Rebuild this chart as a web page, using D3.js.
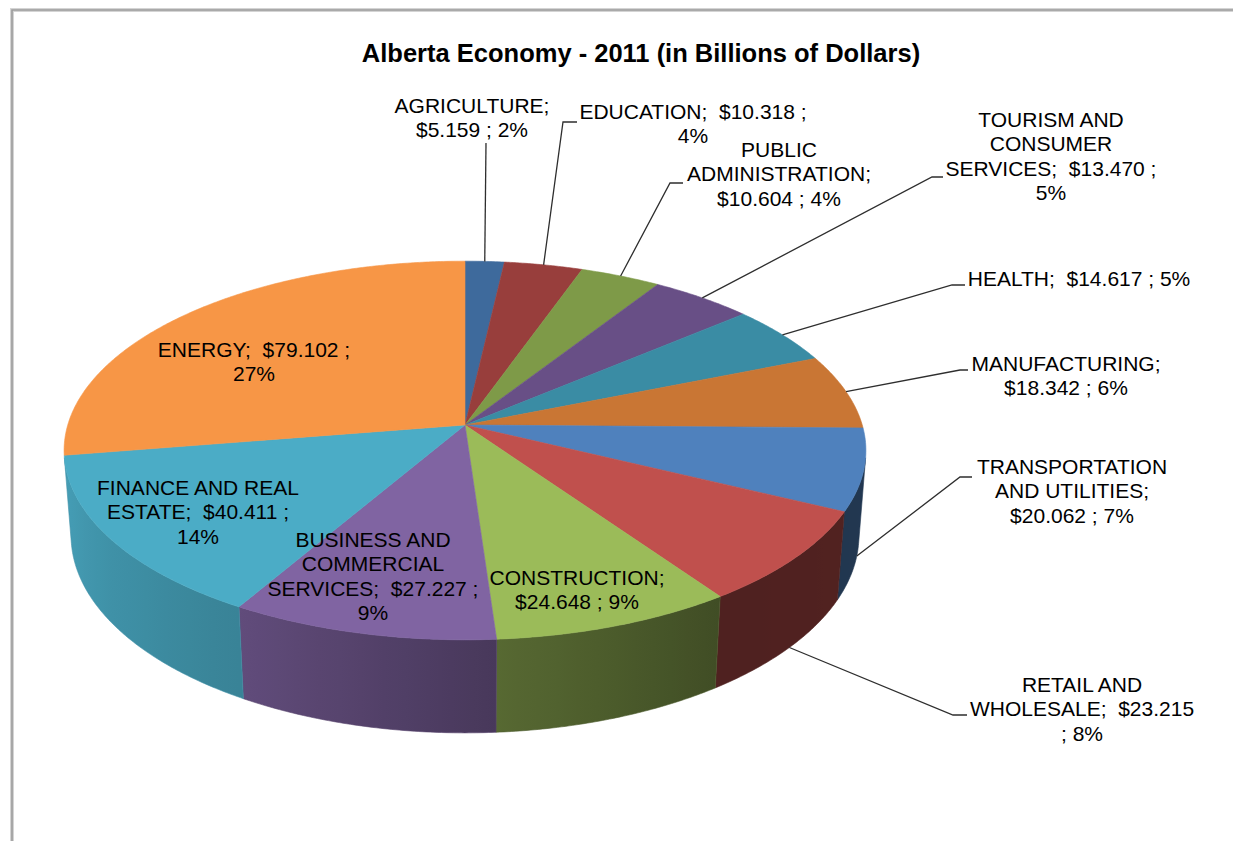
<!DOCTYPE html>
<html>
<head>
<meta charset="utf-8">
<script src="https://cdn.jsdelivr.net/npm/d3@7"></script>
<style>
  html, body { margin: 0; padding: 0; background: #ffffff; }
  svg { display: block; }
  text { font-family: "Liberation Sans", Arial, sans-serif; fill: #000; white-space: pre; }
</style>
</head>
<body>
<svg id="chart" width="1233" height="841"></svg>
<script>
// ---- data -------------------------------------------------------------
const sectors = [
  "AGRICULTURE", "EDUCATION", "PUBLIC ADMINISTRATION", "TOURISM AND CONSUMER SERVICES",
  "HEALTH", "MANUFACTURING", "TRANSPORTATION AND UTILITIES", "RETAIL AND WHOLESALE",
  "CONSTRUCTION", "BUSINESS AND COMMERCIAL SERVICES", "FINANCE AND REAL ESTATE", "ENERGY"
];
const gdpBillions = [5.159, 10.318, 10.604, 13.470, 14.617, 18.342, 20.062, 23.215, 24.648, 27.227, 40.411, 79.102];
const shareLabels = ["2%", "4%", "4%", "5%", "5%", "6%", "7%", "8%", "9%", "9%", "14%", "27%"];
const sliceColors = ["#3e6a9c", "#983e3c", "#7e9a48", "#684f86", "#3a8ca4", "#c97634",
                     "#4f81bd", "#c0504d", "#9bbb59", "#8064a2", "#4bacc6", "#f79646"];
const chartTitle = "Alberta Economy - 2011 (in Billions of Dollars)";

// ---- label placement (centre x, first baseline, tokens per line, leader) ----
const labelLayout = [
  { x: 472,  y: 113, lines: [1, 3],       elbow: [486, 143], end: [486, 143] },
  { x: 693,  y: 119, lines: [3, 1],       elbow: [563, 122], end: [577, 122] },
  { x: 779,  y: 157, lines: [1, 1, 3],    elbow: [670, 183], end: [683, 183] },
  { x: 1051, y: 127, lines: [2, 1, 3, 1], elbow: [932, 177], end: [943, 177] },
  { x: 1079, y: 286, lines: [4],          elbow: [952, 285], end: [965, 285] },
  { x: 1066, y: 371, lines: [1, 3],       elbow: [960, 370], end: [968, 370] },
  { x: 1072, y: 474, lines: [1, 2, 3],    elbow: [960, 477], end: [972, 477] },
  { x: 1082, y: 692, lines: [2, 2, 2],    elbow: [953, 715], end: [967, 715] },
  { x: 577,  y: 585, lines: [1, 3],       elbow: null, end: null },
  { x: 373,  y: 547, lines: [2, 1, 3, 1], elbow: null, end: null },
  { x: 198,  y: 495, lines: [3, 3, 1],    elbow: null, end: null },
  { x: 254,  y: 357, lines: [3, 1],       elbow: null, end: null }
];

// ---- 3D view of the pie disc ------------------------------------------
const view = {
  cx: 465, cy: 425,          // screen position of the disc centre
  tilt: 27.9 * Math.PI / 180, // camera elevation
  dist: 6.565,               // camera distance in disc radii
  focal: 2608,               // projection scale
  thickness: 0.2447          // disc height in disc radii
};
const sinT = Math.sin(view.tilt), cosT = Math.cos(view.tilt);

// theta: clockwise from the far side of the disc; h: height (0 = top face, negative = down)
function project(theta, h) {
  const px = Math.sin(theta), pz = -Math.cos(theta);
  const v = h * cosT - pz * sinT;
  const w = h * sinT + pz * cosT;
  const k = view.focal / (view.dist - w);
  return [view.cx + k * px, view.cy - k * v];
}

// angular range of the rim that faces the camera
const rimLo = Math.acos(-1 / (view.dist * cosT));
const rimHi = 2 * Math.PI - rimLo;

function sampleAngles(a0, a1) {
  const n = Math.max(2, Math.ceil((a1 - a0) / (0.5 * Math.PI / 180)));
  return d3.range(n + 1).map(i => a0 + (a1 - a0) * i / n);
}

// rim brightness as the wall turns away from the light
const rimShade = d3.scaleLinear()
  .domain([100, 145, 176, 210, 260].map(d => d * Math.PI / 180))
  .range([0.43, 0.41, 0.56, 0.76, 0.93])
  .clamp(true);

function shade(color, f) {
  const c = d3.rgb(color);
  return d3.rgb(c.r * f, c.g * f, c.b * f).formatHex();
}

// ---- build -------------------------------------------------------------
const data = sectors.map((name, i) => ({
  name, value: gdpBillions[i], share: shareLabels[i], color: sliceColors[i], layout: labelLayout[i]
}));

const arcs = d3.pie().sort(null).value(d => d.value).startAngle(0).endAngle(2 * Math.PI)(data);

const svg = d3.select("#chart");
const defs = svg.append("defs");
const line = d3.line();

// chart frame
svg.append("path")
  .attr("d", "M12,841 V10 H1233")
  .attr("fill", "none")
  .attr("stroke", "#d4d4d4")
  .attr("stroke-width", 4);
svg.append("path")
  .attr("d", "M12,841 V10 H1233")
  .attr("fill", "none")
  .attr("stroke", "#9c9c9c")
  .attr("stroke-width", 1.6);

// title
svg.append("text")
  .attr("x", 641)
  .attr("y", 62)
  .attr("text-anchor", "middle")
  .style("font-size", "25.5px")
  .style("font-weight", "bold")
  .text(chartTitle);

const pieG = svg.append("g");

// side walls
arcs.forEach((a, i) => {
  const a0 = Math.max(a.startAngle, rimLo), a1 = Math.min(a.endAngle, rimHi);
  if (a1 <= a0) return;
  const angles = sampleAngles(a0, a1);
  const top = angles.map(t => project(t, 0));
  const bottom = angles.map(t => project(t, -view.thickness)).reverse();

  const xs = top.map(p => p[0]);
  const xMin = d3.min(xs), xMax = d3.max(xs);
  const grad = defs.append("linearGradient")
    .attr("id", "rim-" + i)
    .attr("gradientUnits", "userSpaceOnUse")
    .attr("x1", xMin).attr("x2", xMax).attr("y1", 0).attr("y2", 0);
  const steps = 12;
  d3.range(steps + 1).map(k => a0 + (a1 - a0) * k / steps)
    .map(t => ({ x: project(t, 0)[0], f: rimShade(t) }))
    .sort((p, q) => p.x - q.x)
    .forEach(s => grad.append("stop")
      .attr("offset", xMax > xMin ? (s.x - xMin) / (xMax - xMin) : 0)
      .attr("stop-color", shade(a.data.color, s.f)));

  pieG.append("path")
    .attr("d", line(top.concat(bottom)) + "Z")
    .attr("fill", `url(#rim-${i})`)
    .attr("stroke", shade(a.data.color, rimShade((a0 + a1) / 2)))
    .attr("stroke-width", 0.6)
    .attr("stroke-linejoin", "round");
});

// top faces
arcs.forEach(a => {
  const pts = [[view.cx, view.cy]].concat(sampleAngles(a.startAngle, a.endAngle).map(t => project(t, 0)));
  pieG.append("path")
    .attr("d", line(pts) + "Z")
    .attr("fill", a.data.color)
    .attr("stroke", a.data.color)
    .attr("stroke-width", 0.6)
    .attr("stroke-linejoin", "round");
});

// leader lines
const leaderG = svg.append("g");
arcs.forEach(a => {
  const L = a.data.layout;
  if (!L.end) return;
  const mid = (a.startAngle + a.endAngle) / 2;
  const anchor = (mid > rimLo && mid < rimHi) ? project(mid, -view.thickness) : project(mid, 0);
  leaderG.append("path")
    .attr("d", line([anchor, L.elbow, L.end]))
    .attr("fill", "none")
    .attr("stroke", "#2e2e2e")
    .attr("stroke-width", 1.3);
});

// data labels: "NAME;  $value ; share", broken into lines
const lineHeight = 24.4;
const labelG = svg.append("g").style("font-size", "21px");
arcs.forEach(a => {
  const d = a.data, L = d.layout;
  const words = d.name.split(" ");
  words[words.length - 1] += ";";
  const tokens = words.concat(["$" + d.value.toFixed(3), ";", d.share]);
  const moneyIdx = words.length;
  const t = labelG.append("text").attr("text-anchor", "middle");
  let k = 0;
  L.lines.forEach((count, li) => {
    let s = "";
    for (let j = 0; j < count; j++, k++) {
      if (j > 0) s += (k === moneyIdx ? "  " : " ");
      s += tokens[k];
    }
    t.append("tspan").attr("x", L.x).attr("y", L.y + li * lineHeight).text(s);
  });
});
</script>
</body>
</html>
